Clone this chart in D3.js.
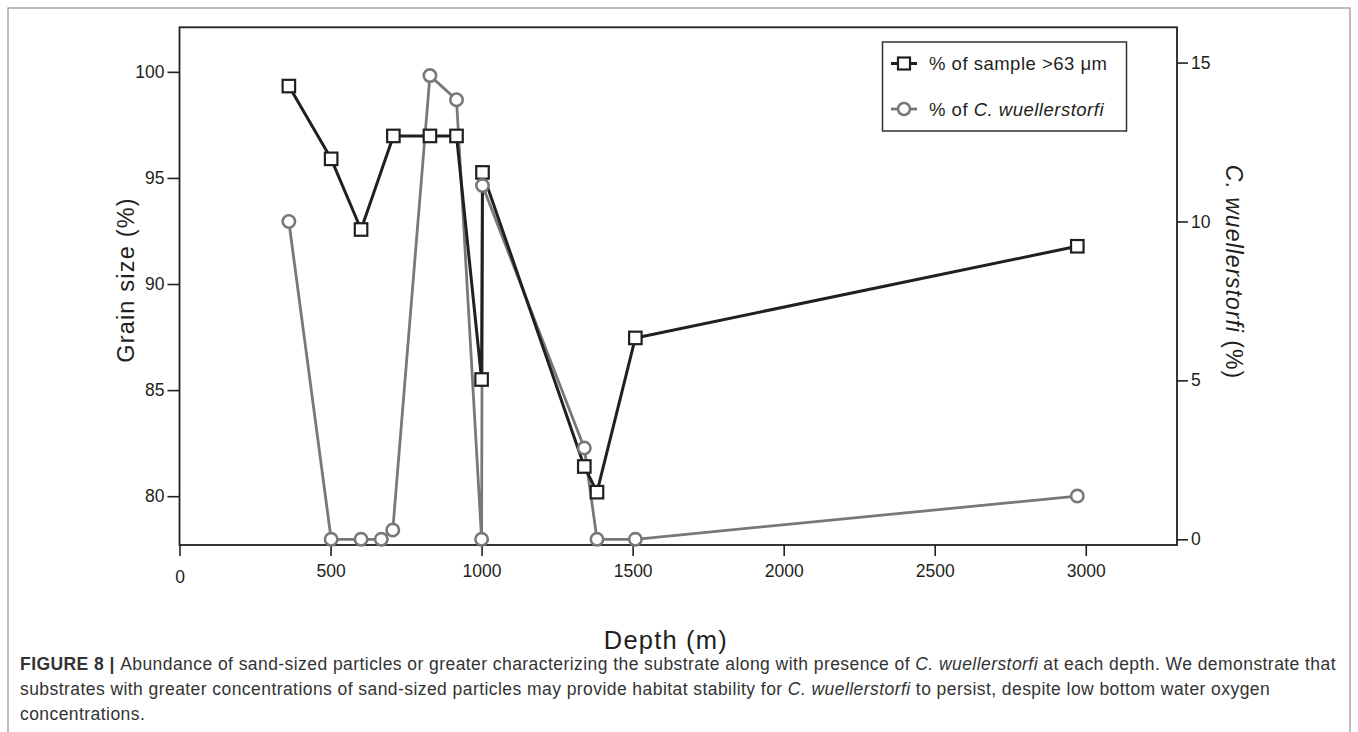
<!DOCTYPE html>
<html>
<head>
<meta charset="utf-8">
<script src="https://cdn.jsdelivr.net/npm/d3@7"></script>
<style>
  html, body { margin: 0; padding: 0; background: #fff; }
  svg { display: block; font-family: "Liberation Sans", Arial, Helvetica, sans-serif; }
</style>
</head>
<body>
<svg id="chart" width="1358" height="732"></svg>
<script>
// ---------- data ----------
const grainDepth = [362, 502, 601, 708, 829, 917, 1000, 1003, 1340, 1382, 1509, 2972];
const grainSize  = [99.33, 95.90, 92.57, 96.98, 96.98, 96.98, 85.50, 95.26, 81.40, 80.19, 87.46, 91.78];

const cwDepth = [362, 502, 601, 668, 706, 829, 917, 1000, 1003, 1340, 1382, 1509, 2972];
const cwPct   = [10.0, 0, 0, 0, 0.29, 14.59, 13.83, 0, 11.13, 2.87, 0, 0, 1.36];

const xTicks  = [0, 500, 1000, 1500, 2000, 2500, 3000];
const yLTicks = [80, 85, 90, 95, 100];
const yRTicks = [0, 5, 10, 15];

const seriesNames = ["% of sample >63 μm", "% of C. wuellerstorfi"];
const xTitle = "Depth (m)";
const yLTitle = "Grain size (%)";

const captionLines = [
  [["FIGURE 8 | ", "b"], ["Abundance of sand-sized particles or greater characterizing the substrate along with presence of ", ""], ["C. wuellerstorfi", "i"], [" at each depth. We demonstrate that", ""]],
  [["substrates with greater concentrations of sand-sized particles may provide habitat stability for ", ""], ["C. wuellerstorfi", "i"], [" to persist, despite low bottom water oxygen", ""]],
  [["concentrations.", ""]]
];

// ---------- layout ----------
const svg = d3.select("#chart");
const L = 179.5, R = 1177, T = 27.3, B = 545;
const ink = "#231f20", grey = "#77787b";

const x  = d3.scaleLinear().domain([0, 3302]).range([L, R]);
const yL = d3.scaleLinear().domain([77.7, 102.1]).range([B, T]);
const yR = d3.scaleLinear().domain([-0.18, 16.11]).range([B, T]);

// outer figure frame
svg.append("rect").attr("x", 8).attr("y", 8).attr("width", 1342).attr("height", 740)
  .attr("fill", "none").attr("stroke", "#9a9a9a").attr("stroke-width", 1.3);

// axes
function styleAxis(g) {
  g.select(".domain").remove();
  g.selectAll("line").attr("stroke", ink).attr("stroke-width", 1.6);
  g.selectAll("text").attr("fill", ink).style("font-size", "17.5px")
    .style("font-family", "'Liberation Sans', Arial, sans-serif");
}
const gx = svg.append("g").attr("transform", `translate(0,${B})`)
  .call(d3.axisBottom(x).tickValues(xTicks).tickSize(11).tickPadding(9).tickFormat(d3.format("d")))
  .call(styleAxis);
gx.selectAll(".tick").filter(d => d === 0).select("text").attr("dy", "1.05em");

svg.append("g").attr("transform", `translate(${L},0)`)
  .call(d3.axisLeft(yL).tickValues(yLTicks).tickSize(12).tickPadding(3).tickFormat(d3.format("d")))
  .call(styleAxis);

svg.append("g").attr("transform", `translate(${R},0)`)
  .call(d3.axisRight(yR).tickValues(yRTicks).tickSize(11).tickPadding(3).tickFormat(d3.format("d")))
  .call(styleAxis);

// plot frame
svg.append("rect").attr("x", L).attr("y", T).attr("width", R - L).attr("height", B - T)
  .attr("fill", "none").attr("stroke", ink).attr("stroke-width", 1.8);

// axis titles
svg.append("text").attr("x", x(1610)).attr("y", 649).attr("text-anchor", "middle")
  .attr("fill", ink).style("font-size", "25.5px").style("letter-spacing", "1.2px").text(xTitle);

svg.append("text").attr("transform", `translate(126,280) rotate(-90)`)
  .attr("text-anchor", "middle").attr("dominant-baseline", "central")
  .attr("fill", ink).style("font-size", "23.5px").style("letter-spacing", "1.2px").text(yLTitle);

const rt = svg.append("text").attr("transform", `translate(1234,272) rotate(90)`)
  .attr("text-anchor", "middle").attr("dominant-baseline", "central")
  .attr("fill", ink).style("font-size", "23px").style("letter-spacing", "1px");
rt.append("tspan").style("font-style", "italic").text("C. wuellerstorfi");
rt.append("tspan").text(" (%)");

// series
const grainData = grainDepth.map((d, i) => ({ x: d, y: grainSize[i] }));
const cwData = cwDepth.map((d, i) => ({ x: d, y: cwPct[i] }));

const plot = svg.append("g");
plot.append("path").datum(cwData)
  .attr("d", d3.line().x(d => x(d.x)).y(d => yR(d.y)))
  .attr("fill", "none").attr("stroke", grey).attr("stroke-width", 2.8).attr("stroke-linejoin", "round");
plot.append("path").datum(grainData)
  .attr("d", d3.line().x(d => x(d.x)).y(d => yL(d.y)))
  .attr("fill", "none").attr("stroke", ink).attr("stroke-width", 3).attr("stroke-linejoin", "round");

const sq = 12.5;
plot.selectAll("rect.sq").data(grainData).join("rect").attr("class", "sq")
  .attr("x", d => x(d.x) - sq / 2).attr("y", d => yL(d.y) - sq / 2)
  .attr("width", sq).attr("height", sq)
  .attr("fill", "#fff").attr("stroke", ink).attr("stroke-width", 2.2);

plot.selectAll("circle.cw").data(cwData).join("circle").attr("class", "cw")
  .attr("cx", d => x(d.x)).attr("cy", d => yR(d.y)).attr("r", 6.2)
  .attr("fill", "#fff").attr("stroke", grey).attr("stroke-width", 2.6);

// legend
const lg = svg.append("g");
lg.append("rect").attr("x", 882.5).attr("y", 42).attr("width", 244).attr("height", 89)
  .attr("fill", "#fff").attr("stroke", "#333").attr("stroke-width", 1.5);
const legendY = [63.5, 109];
// item 1
lg.append("line").attr("x1", 891).attr("x2", 917).attr("y1", legendY[0]).attr("y2", legendY[0])
  .attr("stroke", ink).attr("stroke-width", 3);
lg.append("rect").attr("x", 904 - 6).attr("y", legendY[0] - 6).attr("width", 12).attr("height", 12)
  .attr("fill", "#fff").attr("stroke", ink).attr("stroke-width", 2.2);
lg.append("text").attr("x", 929).attr("y", legendY[0]).attr("dominant-baseline", "central")
  .attr("fill", ink).style("font-size", "18.5px").style("letter-spacing", "0.5px").text(seriesNames[0]);
// item 2
lg.append("line").attr("x1", 891).attr("x2", 917).attr("y1", legendY[1]).attr("y2", legendY[1])
  .attr("stroke", grey).attr("stroke-width", 2.8);
lg.append("circle").attr("cx", 904).attr("cy", legendY[1]).attr("r", 6)
  .attr("fill", "#fff").attr("stroke", grey).attr("stroke-width", 2.6);
const l2 = lg.append("text").attr("x", 929).attr("y", legendY[1]).attr("dominant-baseline", "central")
  .attr("fill", ink).style("font-size", "18.5px").style("letter-spacing", "0.5px");
l2.append("tspan").text("% of ");
l2.append("tspan").style("font-style", "italic").text("C. wuellerstorfi");

// caption
const capG = svg.append("g");
const capBase = [670, 695, 720];
const capTexts = captionLines.map((segs, i) => {
  const t = capG.append("text").attr("x", 20).attr("y", capBase[i])
    .attr("fill", "#333").style("font-size", "17.5px");
  segs.forEach(([s, f]) => {
    const ts = t.append("tspan").text(s);
    if (f === "b") ts.style("font-weight", "bold");
    if (f === "i") ts.style("font-style", "italic");
  });
  return t;
});
// match the reference line width with letter spacing
const first = capTexts[0];
const nat = first.node().getComputedTextLength();
const nChars = captionLines[0].map(s => s[0]).join("").length;
const ls = (1316 - nat) / nChars;
capTexts.forEach(t => t.style("letter-spacing", ls + "px"));
</script>
</body>
</html>
